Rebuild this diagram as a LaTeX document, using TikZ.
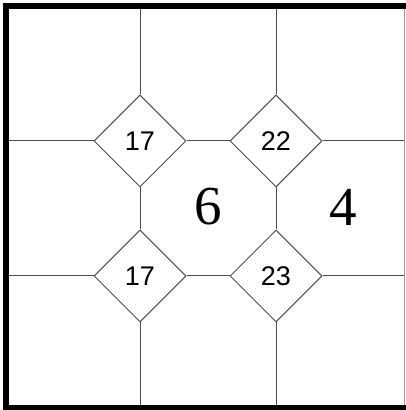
\documentclass[tikz,border=0pt]{standalone}
\usepackage{fontspec}
\setmainfont{Liberation Serif}
\setsansfont{Liberation Sans}
\usetikzlibrary{shapes.geometric, positioning, calc}

\begin{document}
\begin{tikzpicture}[
    x=1pt, y=1pt,
    cross/.style={draw=black!70, line width=1pt, diamond, aspect=1, inner sep=0pt, minimum width=92pt, minimum height=92pt, fill=white, font=\sffamily\fontsize{27}{27}\selectfont},
    cell/.style={inner sep=0pt, font=\rmfamily\fontsize{55}{55}\selectfont},
    edge/.style={draw=black!70, line width=1pt},
    frame/.style={fill=black}
]

\useasboundingbox (0,0) rectangle (406,410);
\fill[white] (0,0) rectangle (406,410);

% Frame
\fill[frame] (3,0) rectangle (9,407);
\fill[frame] (3,401) rectangle (406,407);
\fill[frame] (3,0) rectangle (406,5);
\draw[black!40, line width=0.8pt] (404,5) -- (404,401);
\coordinate (nw) at (9,401);
\coordinate (se) at (404,5);

% Crossings
\node[cross] (tl) at (140,269) {17};
\node[cross] (tr) at (276,269) {22};
\node[cross] (bl) at (140,134) {17};
\node[cross] (br) at (276,134) {23};

% Cell values
\node[cell] (mid) at (208,203) {6};
\node[cell] (east) at (343,203) {4};

% Grid lines
\draw[edge] (tl.north) -- (tl.north |- nw);
\draw[edge] (tr.north) -- (tr.north |- nw);
\draw[edge] (tl.west) -- (tl.west -| nw);
\draw[edge] (bl.west) -- (bl.west -| nw);
\draw[edge] (tr.east) -- (tr.east -| se);
\draw[edge] (br.east) -- (br.east -| se);
\draw[edge] (bl.south) -- (bl.south |- se);
\draw[edge] (br.south) -- (br.south |- se);
\draw[edge] (tl.east) -- (tr.west);
\draw[edge] (bl.east) -- (br.west);
\draw[edge] (tl.south) -- (bl.north);
\draw[edge] (tr.south) -- (br.north);

\end{tikzpicture}
\end{document}
